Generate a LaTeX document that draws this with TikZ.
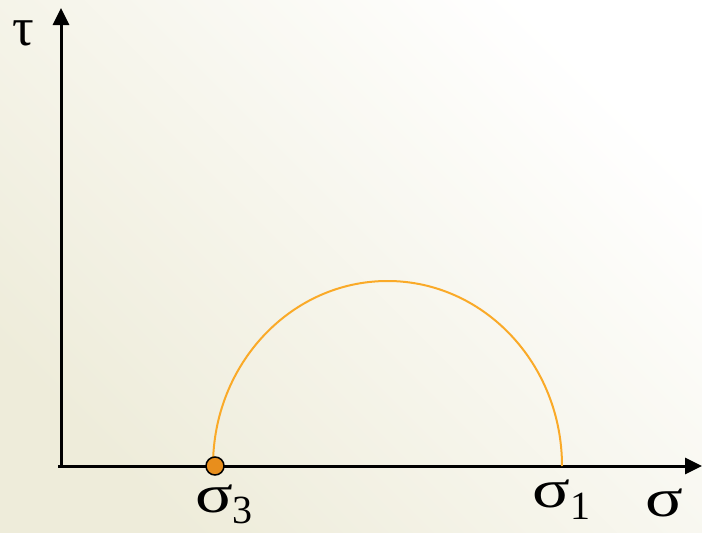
\documentclass[tikz,border=0pt]{standalone}
\usepackage{fontspec}
\setmainfont{Liberation Serif}
\usetikzlibrary{arrows.meta}
\definecolor{bgA}{RGB}{238,236,218}
\definecolor{bgB}{RGB}{255,255,255}
\definecolor{arcC}{RGB}{250,170,40}
\definecolor{dotC}{RGB}{232,142,28}
\tikzset{
  axis/.style={line width=3pt, -{Triangle[length=17pt,width=16pt]}},
  lbl/.style={inner sep=0pt, font=\fontsize{54}{60}\selectfont},
  subl/.style={inner sep=0pt, font=\fontsize{40}{46}\selectfont},
}
\newcommand{\wsig}{\scalebox{1.3}[1]{σ}}
\begin{document}
\begin{tikzpicture}[x=1pt,y=-1pt]
\useasboundingbox (0,0) rectangle (702,533);
\shade[left color=bgA, right color=bgB, shading angle=135] (0,0) rectangle (702,533);
\coordinate (O) at (61,467);
\coordinate (ytop) at (61,8);
\coordinate (xleft) at (58,466);
\coordinate (xright) at (702,466);
\coordinate (arcL) at (213,466);
\draw[axis] (O) -- (ytop);
\draw[axis] (xleft) -- (xright);
\draw[arcC, line width=2pt] (arcL) arc[start angle=180, end angle=360, x radius=174.5, y radius=185];
\node[circle, draw=black, line width=1.5pt, fill=dotC, minimum size=18pt, inner sep=0pt] (dot) at (215,466) {};
\node[lbl] (tau) at (23,33) {τ};
\node[lbl] (s3) at (214,499) {\wsig};
\node[subl] (s3i) at (242,510) {3};
\node[lbl] (s1) at (551,494) {\wsig};
\node[subl] (s1i) at (580,506) {1};
\node[lbl] (sig) at (664,503) {\wsig};
\end{tikzpicture}
\end{document}
